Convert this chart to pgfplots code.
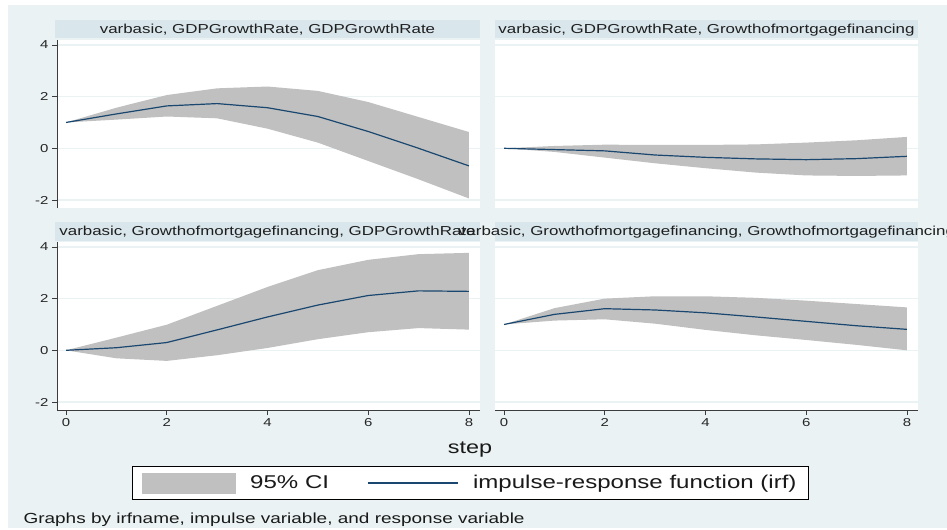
\documentclass[border=0pt]{standalone}
\usepackage{fontspec}
\setmainfont[FakeStretch=1.3]{Liberation Sans}
\usepackage{pgfplots}
\pgfplotsset{compat=1.18}
\usepackage{pgfplotstable}
\definecolor{bgc}{RGB}{234,242,243}
\definecolor{stripc}{RGB}{217,230,235}
\definecolor{gridc}{RGB}{234,242,243}
\definecolor{cigray}{RGB}{192,192,192}
\definecolor{irfc}{RGB}{26,71,111}
\definecolor{axc}{RGB}{60,60,60}

% irf point estimates
\pgfplotstableread{
step irf
0 1.00
1 1.33
2 1.64
3 1.73
4 1.57
5 1.23
6 0.65
7 0.00
8 -0.68
}\irfA
\pgfplotstableread{
step irf
0 0.00
1 -0.05
2 -0.10
3 -0.26
4 -0.35
5 -0.41
6 -0.44
7 -0.40
8 -0.31
}\irfB
\pgfplotstableread{
step irf
0 0.00
1 0.10
2 0.30
3 0.79
4 1.29
5 1.75
6 2.12
7 2.30
8 2.28
}\irfC
\pgfplotstableread{
step irf
0 1.00
1 1.39
2 1.61
3 1.56
4 1.45
5 1.29
6 1.12
7 0.95
8 0.81
}\irfD
% 95% CI bands: upper bound step 0..8, then lower bound step 8..0
\pgfplotstableread{
step ci
0 1.00
1 1.57
2 2.06
3 2.32
4 2.39
5 2.22
6 1.79
7 1.21
8 0.63
8 -1.94
7 -1.20
6 -0.49
5 0.22
4 0.76
3 1.16
2 1.23
1 1.11
0 1.00
}\ciA
\pgfplotstableread{
step ci
0 0.00
1 0.09
2 0.14
3 0.13
4 0.13
5 0.15
6 0.22
7 0.31
8 0.44
8 -1.05
7 -1.07
6 -1.05
5 -0.94
4 -0.77
3 -0.58
2 -0.36
1 -0.14
0 0.00
}\ciB
\pgfplotstableread{
step ci
0 0.00
1 0.49
2 0.99
3 1.72
4 2.45
5 3.10
6 3.50
7 3.72
8 3.77
8 0.80
7 0.86
6 0.70
5 0.43
4 0.09
3 -0.19
2 -0.41
1 -0.31
0 0.00
}\ciC
\pgfplotstableread{
step ci
0 1.00
1 1.63
2 2.00
3 2.09
4 2.09
5 2.03
6 1.92
7 1.79
8 1.66
8 0.00
7 0.21
6 0.40
5 0.58
4 0.79
3 1.03
2 1.20
1 1.15
0 1.00
}\ciD

\pgfplotsset{
  irfax/.style={
    width=423pt, height=168pt, scale only axis,
    xmin=-0.18, xmax=8.22, ymin=-2.31, ymax=4.19,
    anchor=south west,
    axis background/.style={fill=white},
    axis x line*=bottom, axis y line*=left,
    axis line style={axc, line width=1pt, -},
    xtick={0,2,4,6,8}, ytick={-2,0,2,4},
    ymajorgrids, grid style={gridc, line width=1.3pt},
    tick align=outside, major tick length=5pt,
    every tick/.style={axc, line width=0.8pt},
    tick label style={font=\fontsize{11.5}{12}\selectfont, text=black!85},
    /pgf/number format/assume math mode=true,
  },
  noxax/.style={xtick=\empty, x axis line style={draw=none}},
  noyax/.style={yticklabels={}, y axis line style={draw=none}, ytick style={draw=none}},
}

\newcommand{\irfpanel}[2]{%
  \addplot[fill=cigray, draw=none, forget plot] table[x=step, y=ci] {#2} -- cycle;
  \addplot[irfc, line width=1.2pt, forget plot] table[x=step, y=irf] {#1};
}

\newcommand{\titlefont}{\fontsize{13}{15}\selectfont}

\begin{document}
\begin{tikzpicture}
\begin{scope}[x=1pt,y=1pt]
\fill[white] (0,0) rectangle (947,528);
\fill[bgc] (8,0) rectangle (947,523);
\fill[stripc] (55,489.5) rectangle (480,508);
\fill[stripc] (495,489.5) rectangle (918,508);
\fill[stripc] (55,287.5) rectangle (480,306);
\fill[stripc] (495,287.5) rectangle (918,306);
\end{scope}

\begin{axis}[irfax, noxax, at={(57pt,320pt)}]
  \irfpanel{\irfA}{\ciA}
\end{axis}
\begin{axis}[irfax, noxax, noyax, at={(495pt,320pt)}]
  \irfpanel{\irfB}{\ciB}
\end{axis}
\begin{axis}[irfax, at={(57pt,118pt)},
  legend style={at={(0.9775,-0.4345)}, anchor=center, draw=black, line width=0.8pt,
    fill=white, font=\fontsize{18.5}{20}\selectfont, text=black!90,
    inner xsep=10pt, inner ysep=6.5pt,
    /tikz/every even column/.append style={column sep=36pt}},
  legend columns=2]
  \irfpanel{\irfC}{\ciC}
  \addlegendimage{area legend, legend image code/.code={\fill[cigray] (0pt,-10pt) rectangle (93pt,10pt); \path (105pt,0pt);}}
  \addlegendentry{95\% CI}
  \addlegendimage{legend image code/.code={\draw[irfc, line width=1.2pt] (0pt,0pt) -- (90pt,0pt); \path (103pt,0pt);}}
  \addlegendentry{impulse-response function (irf)\hspace{20pt}}
\end{axis}
\begin{axis}[irfax, noyax, at={(495pt,118pt)}]
  \irfpanel{\irfD}{\ciD}
\end{axis}

\begin{scope}[x=1pt,y=1pt]
\node[font=\titlefont, anchor=base, text=black!88] at (267.5,494.7) {varbasic, GDPGrowthRate, GDPGrowthRate};
\node[font=\titlefont, anchor=base, text=black!88] at (706.5,494.7) {varbasic, GDPGrowthRate, Growthofmortgagefinancing};
\node[font=\titlefont, anchor=base, text=black!88] at (267.5,293) {varbasic, Growthofmortgagefinancing, GDPGrowthRate};
\node[font=\titlefont, anchor=base, text=black!88, overlay] at (706.5,293) {varbasic, Growthofmortgagefinancing, Growthofmortgagefinancing};
\node[font=\fontsize{18}{20}\selectfont, anchor=base, text=black!90] at (470,75) {step};
\node[font=\fontsize{14.6}{16}\selectfont, anchor=base west, text=black!90] at (20,5) {Graphs by irfname, impulse variable, and response variable};
\end{scope}
\end{tikzpicture}
\end{document}
